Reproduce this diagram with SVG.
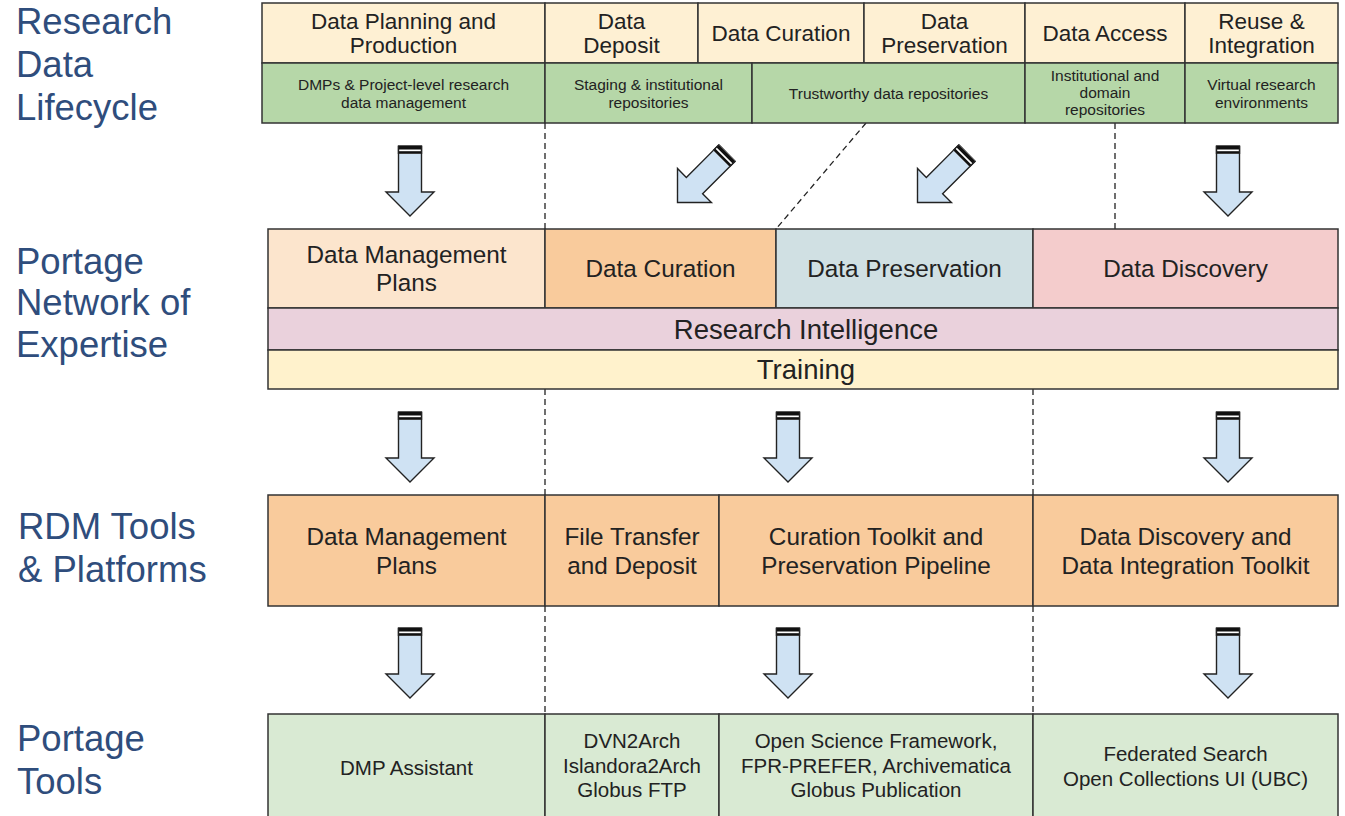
<svg xmlns="http://www.w3.org/2000/svg" width="1345" height="816" viewBox="0 0 1345 816">
<style>
  .cell { stroke: #333; stroke-width: 1.5; }
  .t { font-family: "Liberation Sans", Arial, sans-serif; fill: #222; text-anchor: middle; }
  .h1 { font-size: 22.5px; }
  .sm { font-size: 15.5px; }
  .md { font-size: 24.3px; }
  .lg { font-size: 27.5px; }
  .pt { font-size: 20.5px; }
  .lab { font-family: "Liberation Sans", Arial, sans-serif; font-size: 36.5px; fill: #2f4d7c; }
  .dash { stroke: #222; stroke-width: 1.3; stroke-dasharray: 6 4; fill: none; }
  .cream { fill: #fef0d3; }
  .green { fill: #b6d7a8; }
  .peach { fill: #fce5cd; }
  .orange { fill: #f9cb9c; }
  .cyan { fill: #d0e0e3; }
  .pink { fill: #f4cccc; }
  .mag { fill: #ead1dc; }
  .yel { fill: #fff2cc; }
  .lgreen { fill: #d9ead3; }
</style>
<defs>
  <g id="arrow">
    <path d="M-11.5,0 L11.5,0 L11.5,46 L24,46 L0,70 L-24,46 L-11.5,46 Z" fill="#cfe2f3" stroke="#222" stroke-width="1.4" stroke-linejoin="miter"/>
    <rect x="-11.5" y="0" width="23" height="8" fill="#fff"/>
    <rect x="-11.5" y="0" width="23" height="3.5" fill="#111"/>
    <rect x="-11.5" y="5.2" width="23" height="2.6" fill="#111"/>
    <path d="M-11.5,0 L-11.5,8 M11.5,0 L11.5,8" stroke="#222" stroke-width="1.4"/>
  </g>
</defs>
<rect width="1345" height="816" fill="#fff"/>

<!-- Left labels -->
<g id="label-lifecycle">
  <text class="lab" x="16" y="34">Research</text>
  <text class="lab" x="16" y="77">Data</text>
  <text class="lab" x="16" y="120">Lifecycle</text>
</g>
<g id="label-network">
  <text class="lab" x="16" y="274">Portage</text>
  <text class="lab" x="16" y="315">Network of</text>
  <text class="lab" x="16" y="357">Expertise</text>
</g>
<g id="label-rdm">
  <text class="lab" x="18" y="539">RDM Tools</text>
  <text class="lab" x="18" y="582">&amp; Platforms</text>
</g>
<g id="label-tools">
  <text class="lab" x="17" y="751">Portage</text>
  <text class="lab" x="17" y="794">Tools</text>
</g>

<!-- Connectors -->
<g id="connectors">
  <line class="dash" x1="545" y1="123" x2="545" y2="229"/>
  <line class="dash" x1="1115" y1="123" x2="1115" y2="229"/>
  <line class="dash" x1="866" y1="123" x2="776" y2="229"/>
  <line class="dash" x1="545" y1="389" x2="545" y2="495"/>
  <line class="dash" x1="1033" y1="389" x2="1033" y2="495"/>
  <line class="dash" x1="545" y1="606" x2="545" y2="714"/>
  <line class="dash" x1="1033" y1="606" x2="1033" y2="714"/>
  <use href="#arrow" transform="translate(410,146)"/>
  <use href="#arrow" transform="translate(1228,146)"/>
  <use href="#arrow" transform="translate(727,153) rotate(45)"/>
  <use href="#arrow" transform="translate(967,153) rotate(45)"/>
  <use href="#arrow" transform="translate(410,412)"/>
  <use href="#arrow" transform="translate(788,412)"/>
  <use href="#arrow" transform="translate(1228,412)"/>
  <use href="#arrow" transform="translate(410,628)"/>
  <use href="#arrow" transform="translate(788,628)"/>
  <use href="#arrow" transform="translate(1228,628)"/>
</g>

<!-- Row 1: Research Data Lifecycle -->
<g id="lc-planning">
  <rect class="cell cream" x="262" y="3" width="283" height="60"/>
  <text class="t h1" x="403.5" y="29">Data Planning and</text>
  <text class="t h1" x="403.5" y="53">Production</text>
</g>
<g id="lc-deposit">
  <rect class="cell cream" x="545" y="3" width="153" height="60"/>
  <text class="t h1" x="621.5" y="29">Data</text>
  <text class="t h1" x="621.5" y="53">Deposit</text>
</g>
<g id="lc-curation">
  <rect class="cell cream" x="698" y="3" width="166" height="60"/>
  <text class="t h1" x="781" y="41">Data Curation</text>
</g>
<g id="lc-preservation">
  <rect class="cell cream" x="864" y="3" width="161" height="60"/>
  <text class="t h1" x="944.5" y="29">Data</text>
  <text class="t h1" x="944.5" y="53">Preservation</text>
</g>
<g id="lc-access">
  <rect class="cell cream" x="1025" y="3" width="160" height="60"/>
  <text class="t h1" x="1105" y="41">Data Access</text>
</g>
<g id="lc-reuse">
  <rect class="cell cream" x="1185" y="3" width="153" height="60"/>
  <text class="t h1" x="1261.5" y="29">Reuse &amp;</text>
  <text class="t h1" x="1261.5" y="53">Integration</text>
</g>
<g id="lc-dmps">
  <rect class="cell green" x="262" y="63" width="283" height="60"/>
  <text class="t sm" x="403.5" y="90">DMPs &amp; Project-level research</text>
  <text class="t sm" x="403.5" y="108">data management</text>
</g>
<g id="lc-staging">
  <rect class="cell green" x="545" y="63" width="207" height="60"/>
  <text class="t sm" x="648.5" y="90">Staging &amp; institutional</text>
  <text class="t sm" x="648.5" y="108">repositories</text>
</g>
<g id="lc-trustworthy">
  <rect class="cell green" x="752" y="63" width="273" height="60"/>
  <text class="t sm" x="888.5" y="99">Trustworthy data repositories</text>
</g>
<g id="lc-domain">
  <rect class="cell green" x="1025" y="63" width="160" height="60"/>
  <text class="t sm" x="1105" y="81">Institutional and</text>
  <text class="t sm" x="1105" y="98">domain</text>
  <text class="t sm" x="1105" y="115">repositories</text>
</g>
<g id="lc-vre">
  <rect class="cell green" x="1185" y="63" width="153" height="60"/>
  <text class="t sm" x="1261.5" y="90">Virtual research</text>
  <text class="t sm" x="1261.5" y="108">environments</text>
</g>

<!-- Row 2: Portage Network of Expertise -->
<g id="ne-dmp">
  <rect class="cell peach" x="268" y="229" width="277" height="79"/>
  <text class="t md" x="406.5" y="263">Data Management</text>
  <text class="t md" x="406.5" y="291">Plans</text>
</g>
<g id="ne-curation">
  <rect class="cell orange" x="545" y="229" width="231" height="79"/>
  <text class="t md" x="660.5" y="277">Data Curation</text>
</g>
<g id="ne-preservation">
  <rect class="cell cyan" x="776" y="229" width="257" height="79"/>
  <text class="t md" x="904.5" y="277">Data Preservation</text>
</g>
<g id="ne-discovery">
  <rect class="cell pink" x="1033" y="229" width="305" height="79"/>
  <text class="t md" x="1185.5" y="277">Data Discovery</text>
</g>
<g id="ne-ri">
  <rect class="cell mag" x="268" y="308" width="1070" height="42"/>
  <text class="t lg" x="806" y="339">Research Intelligence</text>
</g>
<g id="ne-training">
  <rect class="cell yel" x="268" y="350" width="1070" height="39"/>
  <text class="t lg" x="806" y="379">Training</text>
</g>

<!-- Row 3: RDM Tools & Platforms -->
<g id="rt-dmp">
  <rect class="cell orange" x="268" y="495" width="277" height="111"/>
  <text class="t md" x="406.5" y="545">Data Management</text>
  <text class="t md" x="406.5" y="574">Plans</text>
</g>
<g id="rt-transfer">
  <rect class="cell orange" x="545" y="495" width="174" height="111"/>
  <text class="t md" x="632" y="545">File Transfer</text>
  <text class="t md" x="632" y="574">and Deposit</text>
</g>
<g id="rt-curation">
  <rect class="cell orange" x="719" y="495" width="314" height="111"/>
  <text class="t md" x="876" y="545">Curation Toolkit and</text>
  <text class="t md" x="876" y="574">Preservation Pipeline</text>
</g>
<g id="rt-discovery">
  <rect class="cell orange" x="1033" y="495" width="305" height="111"/>
  <text class="t md" x="1185.5" y="545">Data Discovery and</text>
  <text class="t md" x="1185.5" y="574">Data Integration Toolkit</text>
</g>

<!-- Row 4: Portage Tools -->
<g id="pt-dmp">
  <rect class="cell lgreen" x="268" y="714" width="277" height="120"/>
  <text class="t pt" x="406.5" y="775">DMP Assistant</text>
</g>
<g id="pt-transfer">
  <rect class="cell lgreen" x="545" y="714" width="174" height="120"/>
  <text class="t pt" x="632" y="748">DVN2Arch</text>
  <text class="t pt" x="632" y="773">Islandora2Arch</text>
  <text class="t pt" x="632" y="797">Globus FTP</text>
</g>
<g id="pt-curation">
  <rect class="cell lgreen" x="719" y="714" width="314" height="120"/>
  <text class="t pt" x="876" y="748">Open Science Framework,</text>
  <text class="t pt" x="876" y="773">FPR-PREFER, Archivematica</text>
  <text class="t pt" x="876" y="797">Globus Publication</text>
</g>
<g id="pt-discovery">
  <rect class="cell lgreen" x="1033" y="714" width="305" height="120"/>
  <text class="t pt" x="1185.5" y="761">Federated Search</text>
  <text class="t pt" x="1185.5" y="786">Open Collections UI (UBC)</text>
</g>
</svg>
